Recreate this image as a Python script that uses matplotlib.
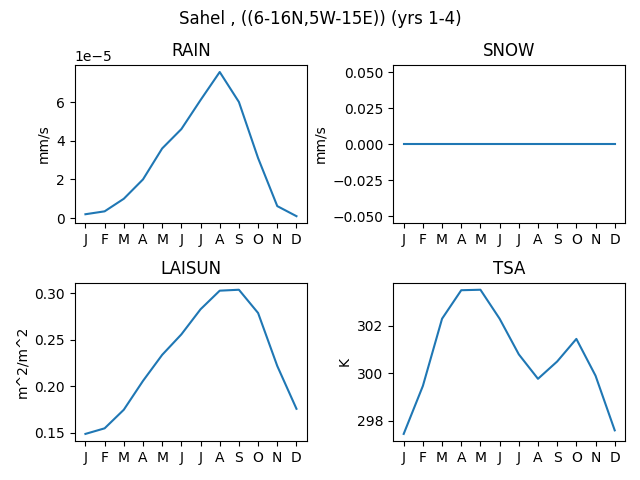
import matplotlib
matplotlib.use("Agg")
import matplotlib.pyplot as plt

months = ["J", "F", "M", "A", "M", "J", "J", "A", "S", "O", "N", "D"]

rain = [0.2e-5, 0.35e-5, 1.0e-5, 2.0e-5, 3.6e-5, 4.6e-5, 6.1e-5, 7.55e-5, 6.0e-5, 3.1e-5, 0.62e-5, 0.1e-5]
snow = [0.0] * 12
laisun = [0.149, 0.155, 0.175, 0.206, 0.234, 0.256, 0.283, 0.303, 0.304, 0.279, 0.222, 0.176]
tsa = [297.45, 299.47, 302.3, 303.5, 303.52, 302.3, 300.8, 299.77, 300.5, 301.45, 299.9, 297.6]

panels = [
    ("RAIN", rain, "mm/s"),
    ("SNOW", snow, "mm/s"),
    ("LAISUN", laisun, "m^2/m^2"),
    ("TSA", tsa, "K"),
]

fig, axes = plt.subplots(2, 2, figsize=(6.4, 4.8))
fig.suptitle("Sahel , ((6-16N,5W-15E)) (yrs 1-4)")

for ax, (name, vals, unit) in zip(axes.flat, panels):
    ax.plot(range(12), vals)
    ax.set_title(name)
    ax.set_ylabel(unit)
    ax.set_xticks(range(12))
    ax.set_xticklabels(months)

# layout matched to the reference by eye
fig.subplots_adjust(left=0.117, right=0.977, top=0.865, bottom=0.081,
                    wspace=0.371, hspace=0.373)
fig.savefig("out.png", dpi=100)
